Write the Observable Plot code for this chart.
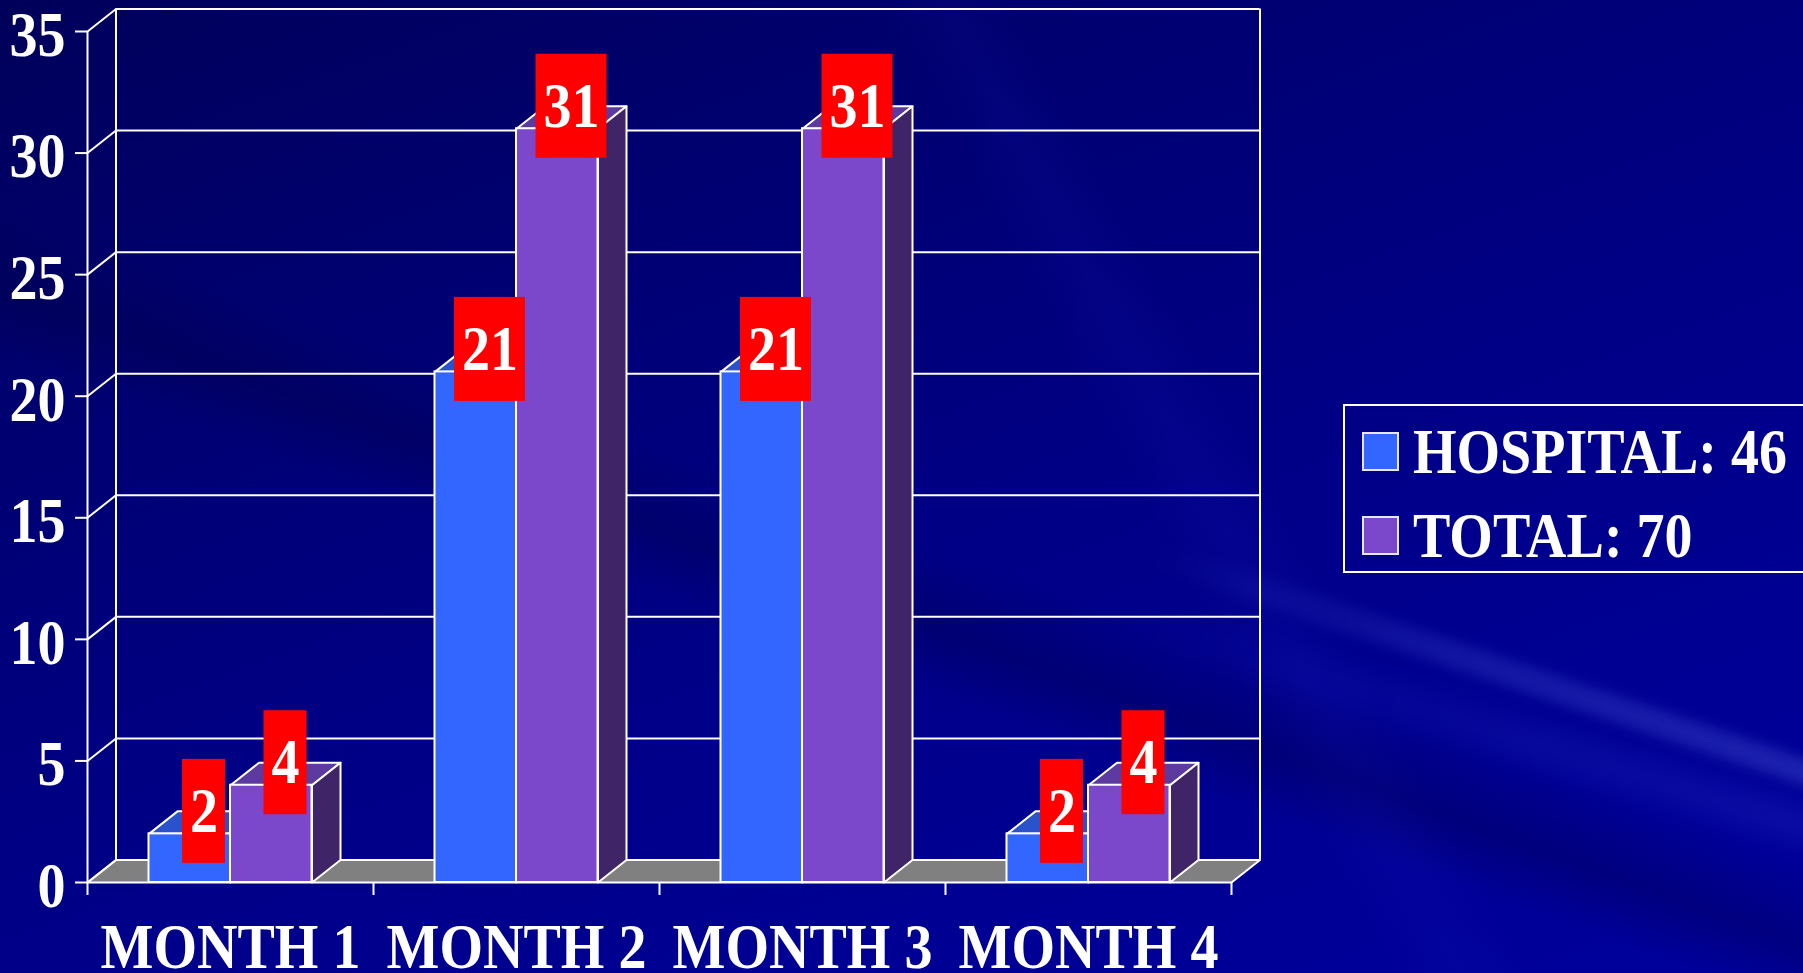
<!DOCTYPE html>
<html>
<head>
<meta charset="utf-8">
<script src="https://cdn.jsdelivr.net/npm/d3@7"></script>
<script src="https://cdn.jsdelivr.net/npm/@observablehq/plot@0.6"></script>
<style>
  html, body { margin: 0; padding: 0; }
  body {
    width: 1803px; height: 973px; overflow: hidden;
    font-family: "Liberation Serif", "Times New Roman", serif;
    background:
      linear-gradient(20deg, rgba(0,0,0,0) 0%, rgba(0,0,0,0) 38%, rgba(0,0,50,0.25) 42%, rgba(0,0,0,0) 47%, rgba(0,0,0,0) 100%),
      linear-gradient(62deg, rgba(0,0,0,0) 0%, rgba(0,0,0,0) 60%, rgba(40,40,220,0.08) 63%, rgba(0,0,0,0) 66%, rgba(0,0,0,0) 100%),
      linear-gradient(160deg, #00005a 0%, #000072 28%, #000086 55%, #000094 80%, #00009c 100%);
  }
  #wrap { position: relative; width: 1803px; height: 973px; }
  #chart { position: relative; z-index: 1; }
  #chart svg { display: block; }
  .streak {
    position: absolute; left: 1150px; top: 540px; width: 720px; height: 26px;
    transform-origin: 0 50%; transform: rotate(18.5deg);
    background: linear-gradient(to right, rgba(110,130,255,0) 0%, rgba(110,130,255,0.16) 45%, rgba(130,150,255,0.22) 100%);
    filter: blur(6px);
  }
  .streak2 {
    position: absolute; left: 1130px; top: 600px; width: 720px; height: 40px;
    transform-origin: 0 50%; transform: rotate(17deg);
    background: linear-gradient(to right, rgba(90,110,255,0) 0%, rgba(90,110,255,0.08) 60%, rgba(90,110,255,0.1) 100%);
    filter: blur(10px);
  }
  .legend-box { position: absolute; z-index: 2; left: 1343px; top: 404px; width: 520px; height: 165px; border: 2px solid #ffffff; }
  .swatch { position: absolute; z-index: 2; left: 1362px; width: 37px; height: 39px; box-sizing: border-box; border: 2px solid #e6e6ff; }
  .legend-text {
    position: absolute; z-index: 2; left: 1413px; font-size: 56px; line-height: 56px; font-weight: bold;
    color: #ffffff; white-space: nowrap; transform: scaleY(1.13); transform-origin: 0 47px;
  }
</style>
</head>
<body>
<div id="wrap">
  <div class="streak2"></div>
  <div class="streak"></div>
  <div id="chart"></div>
  <div id="legend"></div>
</div>
<script>
// ---- data ----
const months = ["MONTH 1", "MONTH 2", "MONTH 3", "MONTH 4"];
const hospital = [2, 21, 21, 2];
const total = [4, 31, 31, 4];
const seriesNames = ["HOSPITAL", "TOTAL"];
const yTicks = [0, 5, 10, 15, 20, 25, 30, 35];

// ---- style / layout ----
const W = 1803, H = 973;
const M = {left: 87, right: 572, top: 31, bottom: 91};
const FONT = "'Liberation Serif', 'Times New Roman', serif";
const FS = 56, STRETCH = 1.13;
const colors = {
  HOSPITAL: {front: "#3366ff", top: "#2a52cc", side: "#1f3d99"},
  TOTAL: {front: "#7b48cc", top: "#5c3a9f", side: "#3f2468"}
};
const pxPerX = (W - M.left - M.right) / months.length;
const pxPerY = (H - M.top - M.bottom) / 35;
const DX = 28.5 / pxPerX;      // depth offset (x units)
const DY = 22.5 / pxPerY;      // depth offset (y units)
const BAR_W = 81.5 / pxPerX;   // bar width (x units)
const LABEL_H = 104 / pxPerY;  // label box height (y units)

// ---- derived geometry from data ----
const bars = months.flatMap((m, i) => [
  {series: "HOSPITAL", i, v: hospital[i], x1: i + 0.5 - BAR_W, x2: i + 0.5},
  {series: "TOTAL", i, v: total[i], x1: i + 0.5, x2: i + 0.5 + BAR_W}
]);
function topFace(b) { return [[b.x1, b.v], [b.x2, b.v], [b.x2 + DX, b.v + DY], [b.x1 + DX, b.v + DY]]; }
function sideFace(b) { return [[b.x2, 0], [b.x2 + DX, DY], [b.x2 + DX, b.v + DY], [b.x2, b.v]]; }
function verts(list, faceFn) {
  return list.flatMap((b, k) => faceFn(b).map(([x, y]) => ({id: k, x, y})));
}
const floorVerts = [[0, 0], [months.length, 0], [months.length + DX, DY], [DX, DY]].map(([x, y]) => ({id: 0, x, y}));

const labels = bars.map(b => {
  const text = String(b.v);
  const wPx = text.length * FS * 0.5 + 15;
  const cx = (b.x1 + b.x2) / 2 + DX / 2;
  const cy = b.v + DY;
  return {text, cx, cy, x1: cx - wPx / 2 / pxPerX, x2: cx + wPx / 2 / pxPerX, y1: cy - LABEL_H / 2, y2: cy + LABEL_H / 2};
});

const faceMarks = [];
for (const s of seriesNames) {
  const sb = bars.filter(b => b.series === s);
  faceMarks.push(
    Plot.line(verts(sb, topFace), {x: "x", y: "y", z: "id", curve: "linear-closed", fill: colors[s].top, stroke: "white", strokeWidth: 2}),
    Plot.line(verts(sb, sideFace), {x: "x", y: "y", z: "id", curve: "linear-closed", fill: colors[s].side, stroke: "white", strokeWidth: 2}),
    Plot.rect(sb, {x1: "x1", x2: "x2", y1: () => 0, y2: "v", fill: colors[s].front, stroke: "white", strokeWidth: 2})
  );
}

const textOpts = {fontSize: FS, fontWeight: "bold", fontFamily: FONT, fill: "white"};

const chart = Plot.plot({
  width: W, height: H,
  marginLeft: M.left, marginRight: M.right, marginTop: M.top, marginBottom: M.bottom,
  x: {type: "linear", domain: [0, months.length], label: null},
  y: {type: "linear", domain: [0, 35], label: null},
  style: {background: "transparent", color: "white", fontFamily: FONT, overflow: "visible"},
  marks: [
    // floor
    Plot.line(floorVerts, {x: "x", y: "y", z: "id", curve: "linear-closed", fill: "#808080", stroke: "white", strokeWidth: 2}),
    // back wall gridlines
    Plot.ruleY(yTicks, {y: d => d + DY, x1: () => DX, x2: () => months.length + DX, stroke: "white", strokeWidth: 2}),
    // back wall verticals
    Plot.ruleX([DX, months.length + DX], {y1: () => DY, y2: () => 35 + DY, stroke: "white", strokeWidth: 2}),
    // left wall diagonals
    Plot.link(yTicks, {x1: () => 0, y1: d => d, x2: () => DX, y2: d => d + DY, stroke: "white", strokeWidth: 2}),
    // front vertical axis line
    Plot.ruleX([0], {y1: () => 0, y2: () => 35, stroke: "white", strokeWidth: 2}),
    ...faceMarks,
    // axes
    Plot.axisY({ticks: yTicks, tickSize: 12, tickFormat: () => "", strokeWidth: 2}),
    Plot.axisY({ticks: yTicks, tickSize: 0, tickPadding: 22, dy: 4, ...textOpts}),
    Plot.axisX({ticks: d3.range(months.length + 1), tickSize: 13, tickFormat: () => "", strokeWidth: 2}),
    Plot.axisX({ticks: months.map((m, i) => i + 0.5), tickFormat: d => months[Math.floor(d)], tickSize: 0, tickPadding: 43, ...textOpts}),
    // value labels
    Plot.rect(labels, {x1: "x1", x2: "x2", y1: "y1", y2: "y2", fill: "#ff0000"}),
    Plot.text(labels, {x: "cx", y: "cy", text: "text", ...textOpts})
  ]
});
document.getElementById("chart").appendChild(chart);

// vertical stretch of the glyphs, about each text's own centre
chart.querySelectorAll("text").forEach(t => {
  if (!t.textContent) return;
  const b = t.getBBox();
  const cy = b.y + b.height / 2;
  const tr = t.getAttribute("transform") || "";
  t.setAttribute("transform", `${tr} translate(0,${cy}) scale(1,${STRETCH}) translate(0,${-cy})`);
});

// ---- legend ----
const legend = document.getElementById("legend");
const box = document.createElement("div");
box.className = "legend-box";
legend.appendChild(box);
const legendRows = [
  {name: seriesNames[0], sum: d3.sum(hospital), color: colors.HOSPITAL.front, swTop: 432, txtTop: 426},
  {name: seriesNames[1], sum: d3.sum(total), color: colors.TOTAL.front, swTop: 516, txtTop: 510}
];
for (const r of legendRows) {
  const sw = document.createElement("div");
  sw.className = "swatch";
  sw.style.top = r.swTop + "px";
  sw.style.background = r.color;
  legend.appendChild(sw);
  const tx = document.createElement("div");
  tx.className = "legend-text";
  tx.style.top = r.txtTop + "px";
  tx.textContent = `${r.name}: ${r.sum}`;
  legend.appendChild(tx);
}
</script>
</body>
</html>
